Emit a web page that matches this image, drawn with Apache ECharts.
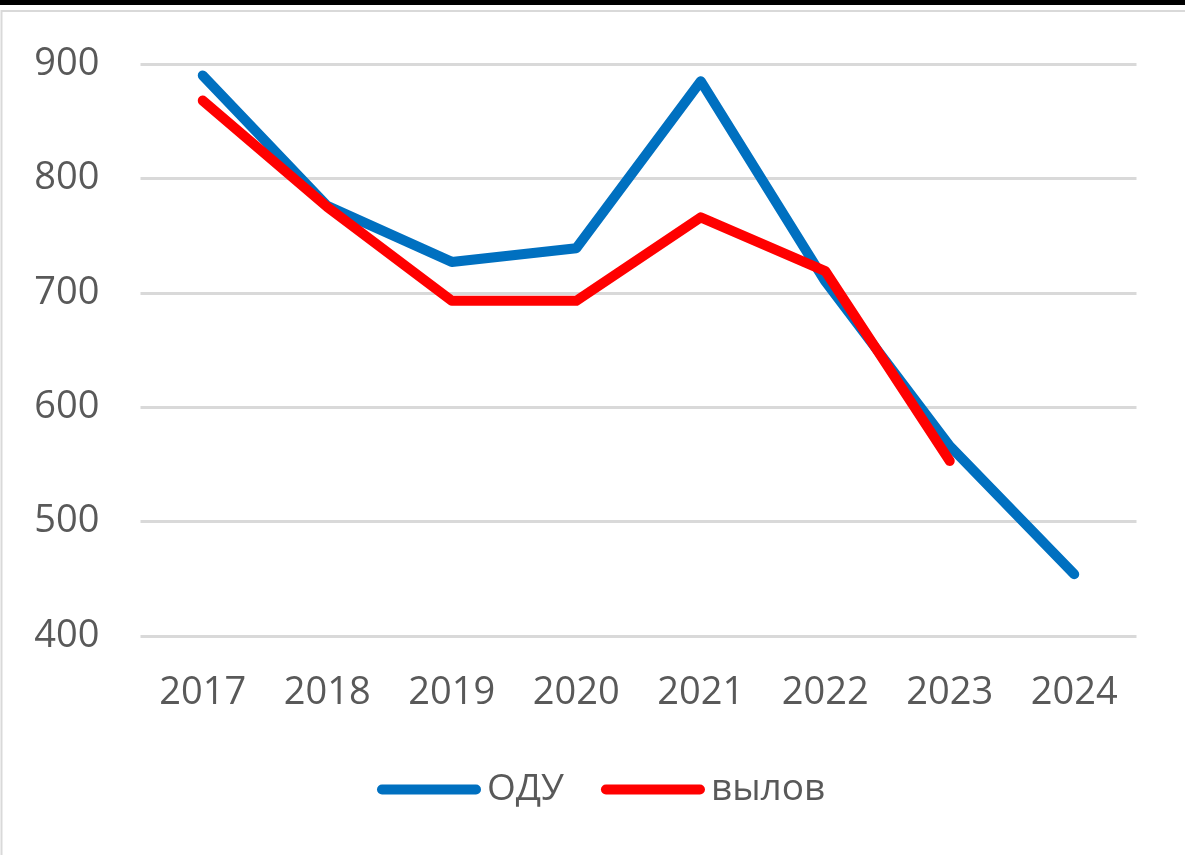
<!DOCTYPE html>
<html>
<head>
<meta charset="utf-8">
<script src="https://cdn.jsdelivr.net/npm/echarts@6/dist/echarts.min.js"></script>
<style>
  html, body { margin: 0; padding: 0; background: #fff; }
</style>
</head>
<body>
<!--контейнер для графика-->
<div id="main" style="width: 1185px; height: 855px"></div>
<script>
var years = ['2017', '2018', '2019', '2020', '2021', '2022', '2023', '2024'];
var odu = [890, 776, 727, 739, 885, 710, 566, 454];
var catch_ = [868, 775, 693, 693, 766, 719, 553, null];
var yTicks = { min: 400, max: 900, step: 100 };

var chart = echarts.init(document.getElementById('main'));
var font = '"Open Sans", "DejaVu Sans", sans-serif';
chart.setOption({
  animation: false,
  graphic: [
    { type: 'rect', shape: { x: 0, y: 0, width: 1185, height: 5 }, style: { fill: '#000' } },
    { type: 'rect', shape: { x: 1.5, y: 11, width: 1220, height: 900 },
      style: { fill: null, stroke: '#d9d9d9', lineWidth: 2 } }
  ],
  grid: { left: 140.5, right: 48.5, top: 64, bottom: 219 },
  textStyle: { fontFamily: font },
  legend: {
    left: 377,
    top: 771,
    padding: 0,
    itemWidth: 104,
    itemHeight: 10,
    itemGap: 37,
    icon: 'path://M5,0 L99,0 A5,5 0 0 1 99,10 L5,10 A5,5 0 0 1 5,0 Z',
    textStyle: { fontSize: 37, color: '#595959', fontFamily: font, padding: [0, 0, 0, 1] },
    data: ['ОДУ', 'вылов']
  },
  xAxis: {
    type: 'category',
    data: years,
    axisLine: { show: false },
    axisTick: { show: false },
    axisLabel: { fontSize: 38, color: '#595959', margin: 38, fontFamily: font }
  },
  yAxis: {
    type: 'value',
    min: yTicks.min,
    max: yTicks.max,
    interval: yTicks.step,
    axisLine: { show: false },
    axisTick: { show: false },
    axisLabel: { fontSize: 38, color: '#595959', margin: 41, fontFamily: font },
    splitLine: { lineStyle: { color: '#d9d9d9', width: 3 } }
  },
  series: [
    {
      name: 'ОДУ',
      type: 'line',
      data: odu,
      showSymbol: false,
      color: '#0070C0',
      lineStyle: { width: 10, cap: 'round', join: 'round' }
    },
    {
      name: 'вылов',
      type: 'line',
      data: catch_,
      showSymbol: false,
      color: '#FF0000',
      lineStyle: { width: 10, cap: 'round', join: 'round' }
    }
  ]
});
</script>
</body>
</html>
